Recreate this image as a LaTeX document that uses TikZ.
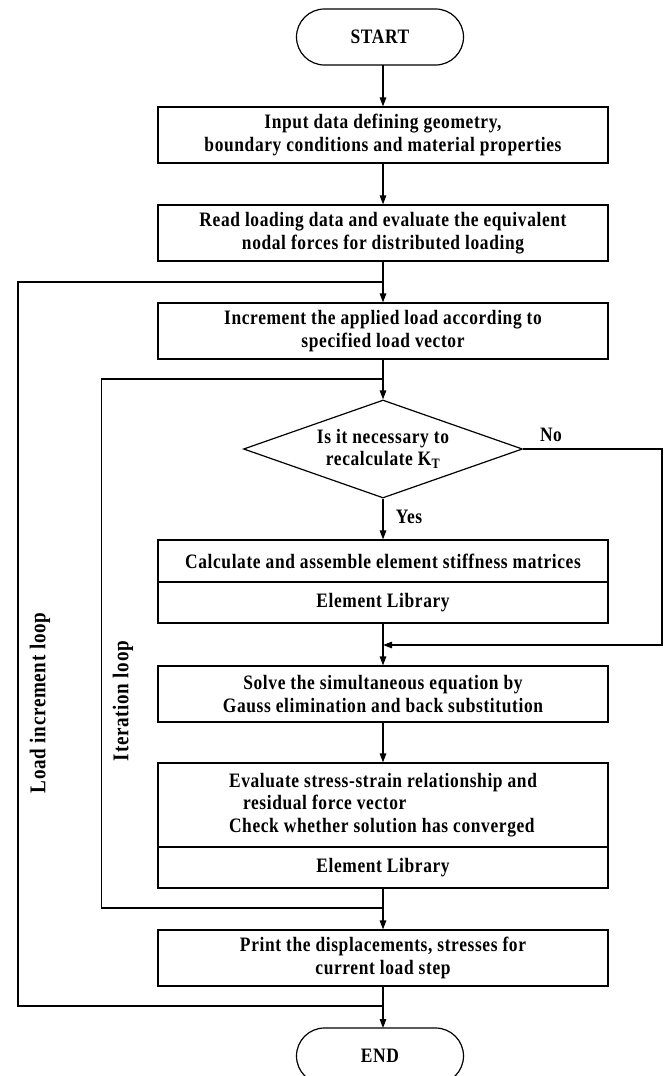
\documentclass[tikz,border=0pt]{standalone}
\usepackage{fontspec}
\setmainfont{Liberation Serif}[FakeStretch=0.85,LetterSpace=3]
\usetikzlibrary{arrows.meta,shapes.geometric}
\tikzset{
  txt/.style={font=\fontsize{20.5}{22.5}\selectfont\bfseries},
  box/.style={txt,draw,line width=1.2pt,minimum width=450pt,inner sep=0pt,align=center},
  term/.style={txt,draw,line width=1.2pt,rounded corners=28pt,minimum width=167pt,minimum height=56pt,inner sep=0pt},
  dec/.style={txt,draw,line width=1.2pt,diamond,shape aspect=2.85,minimum width=279pt,minimum height=98pt,inner sep=0pt,align=center},
  line/.style={line width=1.2pt},
  arr/.style={line width=1.2pt,-{Triangle[length=9pt,width=6.5pt]}},
  looplbl/.style={font=\fontsize{22.5}{24}\selectfont\bfseries,rotate=90}
}
\begin{document}
\begin{tikzpicture}[x=1pt,y=-1pt]
\useasboundingbox[fill=white] (0,0) rectangle (664,1076);
\node[term] (start) at (380,37) {START};
\node[box,minimum height=56pt] (b1) at (383,135) {Input data defining geometry,\\boundary conditions and material properties};
\node[box,minimum height=56pt] (b2) at (383,233) {Read loading data and evaluate the equivalent\\nodal forces for distributed loading};
\node[box,minimum height=56pt] (b3) at (383,331) {Increment the applied load according to\\specified load vector};
\node[dec] (dia) at (383,449) {Is it necessary to\\recalculate K\textsubscript{T}};
\node[box,minimum height=42pt] (b4a) at (383,561) {Calculate and assemble element stiffness matrices};
\node[box,minimum height=41pt] (b4b) at (383,602.5) {Element Library};
\node[box,minimum height=56pt] (b5) at (383,694) {Solve the simultaneous equation by\\Gauss elimination and back substitution};
\node[box,minimum height=84pt,align=left] (b6a) at (383,805) {Evaluate stress-strain relationship and\\\hspace{14pt}residual force vector\\Check whether solution has converged};
\node[box,minimum height=41pt] (b6b) at (383,867.5) {Element Library};
\node[box,minimum height=56pt] (b7) at (383,958) {Print the displacements, stresses for\\current load step};
\node[term] (end) at (380,1056) {END};

\node[txt] (no) at (551,435) {No};
\node[txt] (yes) at (409,517) {Yes};
\node[looplbl] (lil) at (40,703) {Load increment loop};
\node[looplbl] (itl) at (123,701) {Iteration loop};

\coordinate (jL1) at (383,282);
\coordinate (jI1) at (383,379);
\coordinate (jN) at (383,645);
\coordinate (jI2) at (383,908);
\coordinate (jL2) at (383,1006);
\coordinate (cL1) at (18,282);
\coordinate (cL2) at (18,1006);
\coordinate (cI1) at (101.6,379);
\coordinate (cI2) at (101.6,908);
\coordinate (cR1) at (662,449);
\coordinate (cR2) at (662,645);
\coordinate (s1) at (383,65);
\coordinate (e1) at (383,1028);

\draw[arr] (s1) -- (b1.north);
\draw[arr] (b1.south) -- (b2.north);
\draw[line] (b2.south) -- (jL1);
\draw[arr] (jL1) -- (b3.north);
\draw[line] (b3.south) -- (jI1);
\draw[arr] (jI1) -- (dia.north);
\draw[arr] (dia.south) -- (b4a.north);
\draw[line] (b4b.south) -- (jN);
\draw[arr] (jN) -- (b5.north);
\draw[arr] (dia.east) -- (cR1) -- (cR2) -- (jN);
\draw[arr] (b5.south) -- (b6a.north);
\draw[line] (b6b.south) -- (jI2);
\draw[arr] (jI2) -- (b7.north);
\draw[line] (b7.south) -- (jL2);
\draw[arr] (jL2) -- (e1);
\draw[line] (jI2) -- (cI2) -- (cI1) -- (jI1);
\draw[line] (jL2) -- (cL2) -- (cL1) -- (jL1);
\end{tikzpicture}
\end{document}
